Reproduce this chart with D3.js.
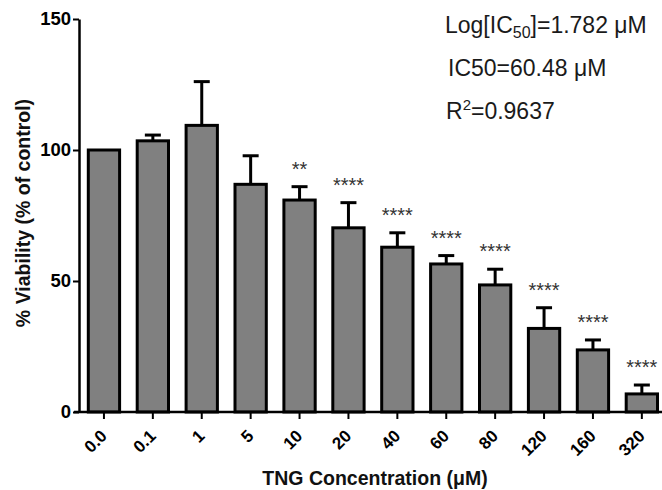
<!DOCTYPE html>
<html><head><meta charset="utf-8">
<script src="https://cdn.jsdelivr.net/npm/d3@7"></script>
<style>body{margin:0;background:#fff}svg{display:block}text{font-family:Arial,"Liberation Sans",sans-serif}</style>
</head><body>
<svg id="c" width="662" height="490"></svg>
<script>
const categories = ["0.0","0.1","1","5","10","20","40","60","80","120","160","320"];
const viability = [100, 103.5, 109.4, 86.9, 80.9, 70.3, 62.9, 56.5, 48.5, 31.9, 23.7, 6.9];
const errors = [0, 2.2, 16.7, 10.9, 5.1, 9.6, 5.5, 3.2, 6.0, 7.9, 3.8, 3.4];
const stars = ["", "", "", "", "**", "****", "****", "****", "****", "****", "****", "****"];
const yTicks = [0, 50, 100, 150];

const svg = d3.select("#c");
const x = d3.scaleBand().domain(categories).range([79.5, 79.5 + 12*48.9]).paddingInner(0.36).paddingOuter(0.18);
const y = d3.scaleLinear().domain([0,150]).range([412, 19]);

// bars
const bw = x.bandwidth();
svg.append("g").selectAll("rect").data(categories).join("rect")
  .attr("x", d => x(d)).attr("width", bw)
  .attr("y", (d,i) => y(viability[i])).attr("height", (d,i) => y(0) - y(viability[i]))
  .attr("fill", "#808080").attr("stroke", "#000").attr("stroke-width", 3);

// error bars
const eg = svg.append("g").attr("stroke", "#000").attr("stroke-width", 3);
categories.forEach((c,i) => {
  if (!errors[i]) return;
  const cx = x(c) + bw/2;
  eg.append("line").attr("x1", cx).attr("x2", cx).attr("y1", y(viability[i])).attr("y2", y(viability[i]+errors[i]));
  eg.append("line").attr("x1", cx-8).attr("x2", cx+8).attr("y1", y(viability[i]+errors[i])).attr("y2", y(viability[i]+errors[i]));
});

// stars
svg.append("g").selectAll("text").data(categories).join("text")
  .attr("x", d => x(d) + bw/2).attr("y", (d,i) => y(viability[i]+errors[i]) - 11)
  .attr("text-anchor", "middle").attr("font-size", 20).attr("fill", "#333")
  .text((d,i) => stars[i]);

// axes
const xAxis = svg.append("g").attr("transform", "translate(0,412)")
  .call(d3.axisBottom(x).tickSize(7).tickSizeOuter(0));
xAxis.select(".domain").attr("d", "M74,0H662").attr("stroke-width", 2.5);
xAxis.selectAll(".tick line").attr("stroke-width", 2);
xAxis.selectAll(".tick text").attr("x", 0).attr("y", 0).attr("dy", 0)
  .attr("text-anchor", "end").attr("transform", "translate(4,25) rotate(-45)")
  .attr("font-size", 17).attr("font-weight", "bold").attr("fill", "#000")
  .style("font-family", "Arial, 'Liberation Sans', sans-serif");

const yAxis = svg.append("g").attr("transform", "translate(79,0)")
  .call(d3.axisLeft(y).tickValues(yTicks).tickSize(6).tickPadding(2).tickSizeOuter(0));
yAxis.select(".domain").attr("stroke-width", 2.5);
yAxis.selectAll(".tick line").attr("stroke-width", 2);
yAxis.selectAll(".tick text").attr("font-size", 18.5).attr("font-weight", "bold").attr("fill", "#000")
  .style("font-family", "Arial, 'Liberation Sans', sans-serif");

// axis titles
svg.append("text").attr("transform", "translate(30,213) rotate(-90)").attr("text-anchor", "middle")
  .attr("font-size", 19.5).attr("font-weight", "bold").attr("fill", "#111").text("% Viability (% of control)");
svg.append("text").attr("x", 375).attr("y", 485).attr("text-anchor", "middle")
  .attr("font-size", 19.5).attr("font-weight", "bold").attr("fill", "#111").text("TNG Concentration (μM)");

// annotations
const t1 = svg.append("text").attr("x", 445).attr("y", 33).attr("font-size", 23).attr("fill", "#1a1a1a");
t1.append("tspan").text("Log[IC");
t1.append("tspan").attr("dy", 5).attr("font-size", 16).text("50");
t1.append("tspan").attr("dy", -5).text("]=1.782 μM");
svg.append("text").attr("x", 448).attr("y", 76).attr("font-size", 23).attr("fill", "#1a1a1a").text("IC50=60.48 μM");
const t3 = svg.append("text").attr("x", 446).attr("y", 119).attr("font-size", 23).attr("fill", "#1a1a1a");
t3.append("tspan").text("R");
t3.append("tspan").attr("dy", -9).attr("font-size", 15).text("2");
t3.append("tspan").attr("dy", 9).text("=0.9637");
</script>
</body></html>
